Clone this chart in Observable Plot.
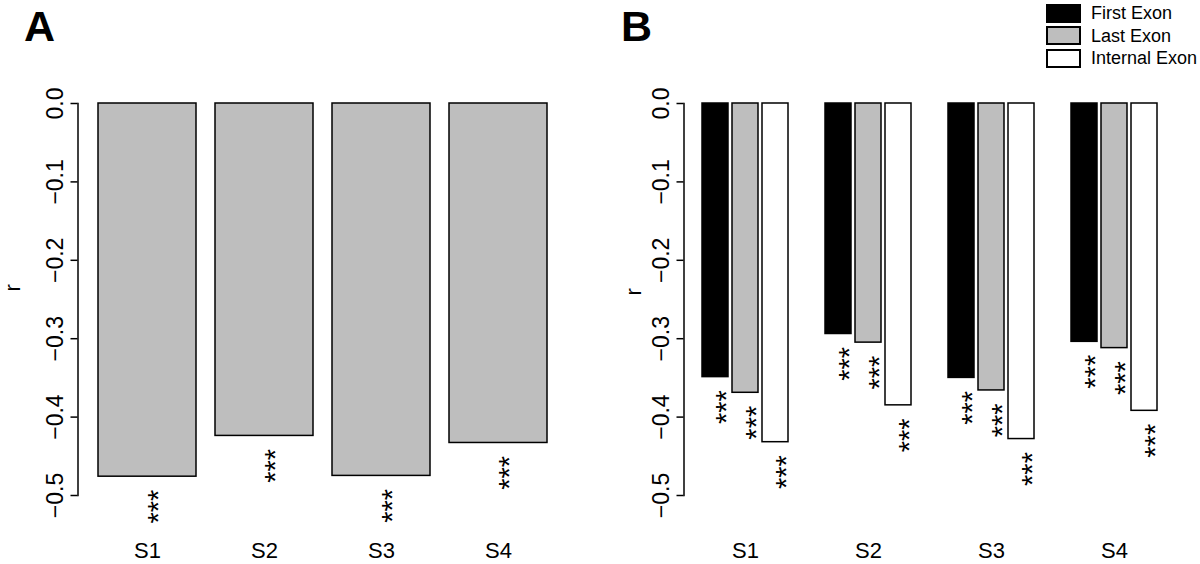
<!DOCTYPE html>
<html><head><meta charset="utf-8">
<script src="https://cdn.jsdelivr.net/npm/d3@7"></script>
<script src="https://cdn.jsdelivr.net/npm/@observablehq/plot@0.6"></script>
<style>
body{margin:0;background:#fff;font-family:"Liberation Sans",Arial,sans-serif;}
#wrap{position:relative;width:1200px;height:564px;overflow:hidden;}
#a{position:absolute;left:0;top:0;}
#b{position:absolute;left:600px;top:0;}
.letter{position:absolute;font-weight:bold;font-size:43px;line-height:43px;}
#legend{position:absolute;left:1046px;top:2px;font-size:18px;line-height:18px;}
.item{display:flex;align-items:center;height:22.5px;}
.sw{width:31px;height:15px;border:2px solid #000;margin-right:10px;box-sizing:content-box;}
</style></head>
<body>
<div id="wrap">
  <div id="a"></div>
  <div id="b"></div>
  <div class="letter" style="left:24px;top:5px;">A</div>
  <div class="letter" style="left:621px;top:5px;">B</div>
  <div id="legend"></div>
</div>
<script>
// ---- data ----
const categories = ["S1", "S2", "S3", "S4"];
const panelA = [-0.476, -0.424, -0.475, -0.433];
const series = ["First Exon", "Last Exon", "Internal Exon"];
const firstExon = [-0.349, -0.294, -0.350, -0.304];
const lastExon = [-0.369, -0.305, -0.366, -0.312];
const internalExon = [-0.432, -0.385, -0.428, -0.392];
const signifA = ["***", "***", "***", "***"];
const signifB = ["***", "***", "***", "***"];
const yTicks = [0, -0.1, -0.2, -0.3, -0.4, -0.5];
const seriesFill = ["#000000", "#bebebe", "#ffffff"];

const font = "'Liberation Sans', Arial, sans-serif";
const fmt = d3.format(".1f");

// ---- panel A ----
const dataA = categories.map((c, i) => ({cat: c, r: panelA[i], sig: signifA[i]}));
const plotA = Plot.plot({
  width: 600, height: 564,
  marginTop: 103, marginBottom: 69, marginLeft: 87, marginRight: 42,
  style: {fontFamily: font, fontSize: "22px", background: "white", overflow: "visible", color: "black"},
  x: {type: "band", domain: categories, paddingInner: 0.166, paddingOuter: 0.083, axis: null},
  y: {domain: [-0.5, 0], axis: null},
  marks: [
    Plot.barY(dataA, {x: "cat", y: "r", fill: "#bebebe", stroke: "black", strokeWidth: 1.5}),
    Plot.text(dataA, {x: "cat", y: "r", text: "sig", rotate: -90, textAnchor: "end", lineAnchor: "middle", dy: 13, dx: 11, fontSize: 29, fill: "black"}),
    Plot.frame({anchor: "left", dx: -9.5, strokeWidth: 1.5}),
    Plot.axisY({ticks: yTicks, tickFormat: fmt, tickSize: 7, dx: -9.5, tickRotate: -90, textAnchor: "middle", lineAnchor: "bottom", tickPadding: 8, fontSize: 23, strokeWidth: 1.5, label: null}),
    Plot.axisX({tickSize: 0, tickPadding: 47, fontSize: 22, label: null}),
    Plot.text(["r"], {frameAnchor: "left", rotate: -90, dx: -75, dy: -8, fontSize: 22, lineAnchor: "middle"})
  ]
});
document.getElementById("a").appendChild(plotA);

// ---- panel B ----
const valuesB = [firstExon, lastExon, internalExon];
const dataB = categories.flatMap((c, i) => series.map((s, j) => ({cat: c, s, r: valuesB[j][i], sig: signifB[i]})));
const plotB = Plot.plot({
  width: 600, height: 564,
  marginTop: 103, marginBottom: 69, marginLeft: 83, marginRight: 25,
  style: {fontFamily: font, fontSize: "22px", background: "white", overflow: "visible", color: "black"},
  fx: {domain: categories, paddingInner: 0.285, paddingOuter: 0.1425, axis: null, label: null},
  x: {domain: series, paddingInner: 0.13, paddingOuter: 0, axis: null},
  y: {domain: [-0.5, 0], axis: null},
  color: {domain: series, range: seriesFill},
  marks: [
    Plot.barY(dataB, {fx: "cat", x: "s", y: "r", fill: "s", stroke: "black", strokeWidth: 1.5}),
    Plot.text(dataB, {fx: "cat", x: "s", y: "r", text: "sig", rotate: -90, textAnchor: "end", lineAnchor: "middle", dy: 13, dx: 11, fontSize: 29, fill: "black"}),
    Plot.frame({anchor: "left", dx: -17.5, strokeWidth: 1.5, facetAnchor: "left"}),
    Plot.axisY({ticks: yTicks, tickFormat: fmt, tickSize: 7, dx: -17.5, tickRotate: -90, textAnchor: "middle", lineAnchor: "bottom", tickPadding: 8, fontSize: 23, strokeWidth: 1.5, label: null}),
    Plot.axisFx({anchor: "bottom", tickSize: 0, tickPadding: 47, fontSize: 22, label: null}),
    Plot.text(["r"], {fx: () => categories[0], frameAnchor: "left", rotate: -90, dx: -67.5, dy: -4, fontSize: 22, lineAnchor: "middle"})
  ]
});
document.getElementById("b").appendChild(plotB);

// ---- legend ----
const legend = document.getElementById("legend");
series.forEach((s, j) => {
  const item = document.createElement("div");
  item.className = "item";
  const sw = document.createElement("div");
  sw.className = "sw";
  sw.style.background = seriesFill[j];
  const label = document.createElement("span");
  label.textContent = s;
  item.appendChild(sw);
  item.appendChild(label);
  legend.appendChild(item);
});
</script>
</body></html>
